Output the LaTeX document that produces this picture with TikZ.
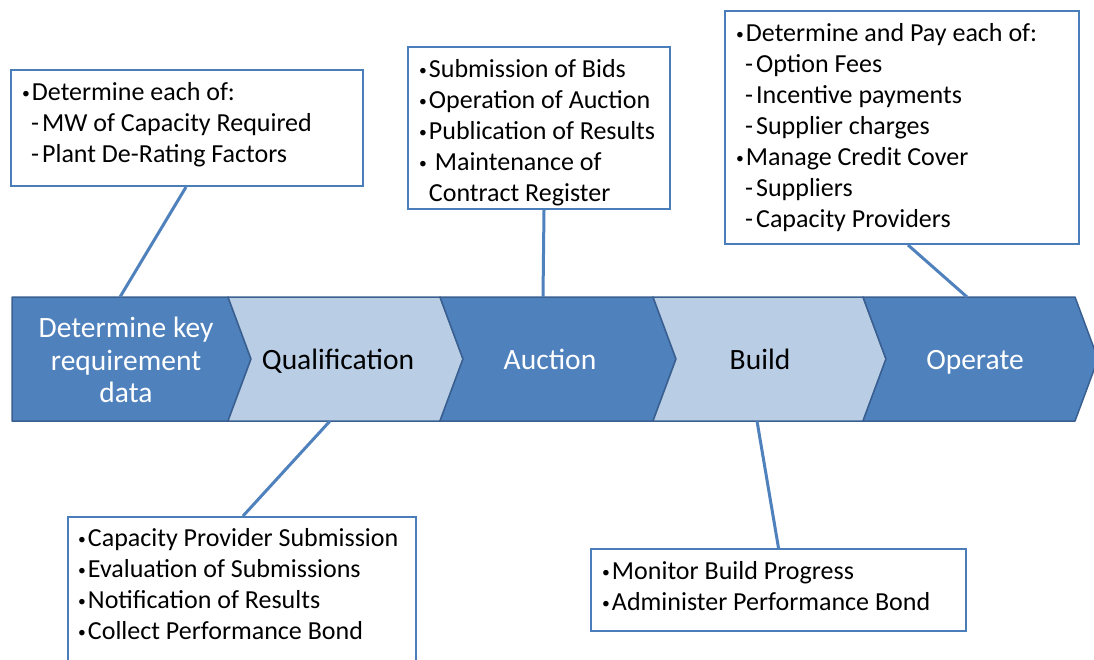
\documentclass[tikz,border=0pt]{standalone}
\usepackage{fontspec}
\setmainfont{Carlito}
\usepackage{graphicx}
\usepackage{xcolor}
\usepackage{tikz}
\usetikzlibrary{arrows.meta,calc,positioning}

\definecolor{stepdark}{RGB}{79,129,189}
\definecolor{steplight}{RGB}{185,205,229}
\definecolor{stepedge}{RGB}{58,96,145}
\definecolor{boxline}{RGB}{74,126,187}

\newcommand{\itm}{\raisebox{1.5pt}{\scalebox{0.6}{\textbullet}}\hspace{2pt}}
\newcommand{\subitm}{\hspace{9pt}-\hspace{3pt}}

\begin{document}
\begin{tikzpicture}[
    x=1pt, y=-1pt,
    frame/.style={draw=boxline, line width=2pt, fill=white, anchor=north west},
    items/.style={inner sep=0pt, align=left, font=\fontsize{26}{31}\selectfont},
    link/.style={draw=stepdark, line width=3pt},
    stagelabel/.style={align=center, font=\fontsize{29.5}{32.5}\selectfont},
    stageone/.style={stagelabel, text height=19pt, text depth=7pt}
]

% page frame
\path[use as bounding box, fill=white] (0,0) rectangle (1094,660);

% chevron band
\def\bandT{297}
\def\bandB{421}
\def\bandM{359}
\def\notch{23}
\foreach \xl/\xr/\nl/\col in {12/228/0/stepdark, 228/440/23/steplight,
    440/653/23/stepdark, 653/863/23/steplight, 863/1075/23/stepdark}
  \filldraw[fill=\col, draw=stepedge, line width=1.5pt, line join=round]
    (\xl,\bandT) -- (\xr,\bandT) -- (\xr+\notch,\bandM) -- (\xr,\bandB)
    -- (\xl,\bandB) -- (\xl+\nl,\bandM) -- cycle;

% stage names
\node[stagelabel, text=white] (s1) at (126,360) {Determine key\\requirement\\data};
\node[stageone] (s2) at (338,363) {Qualification};
\node[stageone, text=white] (s3) at (550,363) {Auction};
\node[stageone] (s4) at (760,363) {Build};
\node[stageone, text=white] (s5) at (975,363) {Operate};

% where the callouts meet the band
\coordinate (a1) at (120,\bandT);
\coordinate (a2) at (330,\bandB);
\coordinate (a3) at (543,\bandT);
\coordinate (a4) at (757,\bandB);
\coordinate (a5) at (967,\bandT);

% callout frames
\node[frame, minimum width=352pt, minimum height=116pt] (boxA) at (10,69) {};
\node[frame, minimum width=262pt, minimum height=162pt] (boxB) at (407,46) {};
\node[frame, minimum width=354pt, minimum height=233pt] (boxC) at (724,10) {};
\node[frame, minimum width=348pt, minimum height=190pt] (boxD) at (67,516) {};
\node[frame, minimum width=375pt, minimum height=82pt] (boxE) at (590,548) {};

% callout texts
\node[items, below right=13pt and 12pt of boxA.north west] (tA)
  {\itm Determine each of:\\
   \subitm MW of Capacity Required\\
   \subitm Plant De-Rating Factors};
\node[items, below right=13pt and 12pt of boxB.north west] (tB)
  {\itm Submission of Bids\\
   \itm Operation of Auction\\
   \itm Publication of Results\\
   \itm\ Maintenance of\\
   \phantom{\itm}Contract Register};
\node[items, below right=13pt and 12pt of boxC.north west] (tC)
  {\itm Determine and Pay each of:\\
   \subitm Option Fees\\
   \subitm Incentive payments\\
   \subitm Supplier charges\\
   \itm Manage Credit Cover\\
   \subitm Suppliers\\
   \subitm Capacity Providers};
\node[items, below right=12pt and 11pt of boxD.north west] (tD)
  {\itm Capacity Provider Submission\\
   \itm Evaluation of Submissions\\
   \itm Notification of Results\\
   \itm Collect Performance Bond};
\node[items, below right=13pt and 12pt of boxE.north west] (tE)
  {\itm Monitor Build Progress\\
   \itm Administer Performance Bond};

% connectors
\draw[link] ([xshift=-1pt]boxA.south) -- (a1);
\draw[link] ([xshift=5pt]boxB.south) -- (a3);
\draw[link] ([xshift=6pt]boxC.south) -- (a5);
\draw[link] (a2) -- ([xshift=1pt]boxD.north);
\draw[link] (a4) -- (boxE.north);

\end{tikzpicture}
\end{document}
